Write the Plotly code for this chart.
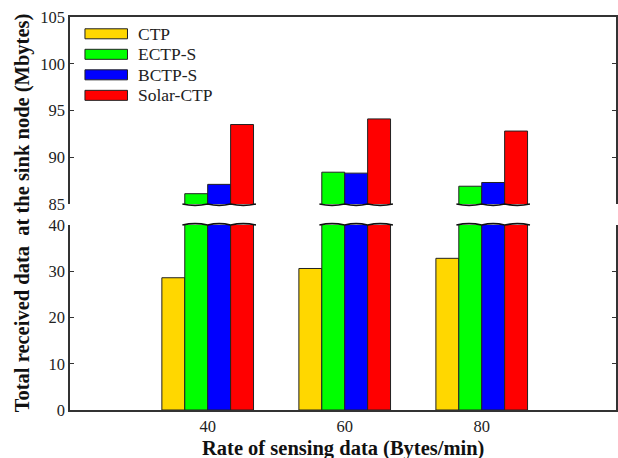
import plotly.graph_objects as go

categories = [40, 60, 80]
series_names = ["CTP", "ECTP-S", "BCTP-S", "Solar-CTP"]
ctp = [28.6, 30.6, 32.8]
ectp_s = [86.1, 88.4, 86.9]
bctp_s = [87.1, 88.3, 87.3]
solar_ctp = [93.5, 94.1, 92.8]
series_values = [ctp, ectp_s, bctp_s, solar_ctp]
colors = ["#FFD700", "#00FF00", "#0000FF", "#FF0000"]

lower_range = [0, 40]
upper_range = [85, 105]
lower_ticks = [0, 10, 20, 30, 40]
upper_ticks = [85, 90, 95, 100, 105]

FONT = "'Liberation Serif', 'Times New Roman', Times, serif"
BAR_W = 3.345
n = len(series_names)
offsets = [(i - n / 2) * BAR_W for i in range(n)]
LOWER_DOM = [0, 0.4707]
UPPER_DOM = [0.5242, 1]

fig = go.Figure()
for i, (name, vals, col) in enumerate(zip(series_names, series_values, colors)):
    common = dict(x=categories, y=vals, name=name, width=BAR_W, offset=offsets[i],
                  marker=dict(color=col, line=dict(color="#222", width=1)),
                  showlegend=False)
    fig.add_trace(go.Bar(xaxis="x", yaxis="y", **common))
    if max(vals) > lower_range[1]:
        fig.add_trace(go.Bar(xaxis="x2", yaxis="y2", **common))

# broken-axis wavy lines (x in data units, y in paper units at the panel edges)
shapes = []
ext = 0.35
for ci, c in enumerate(categories):
    broken = [i for i in range(n) if series_values[i][ci] > lower_range[1]]
    if not broken:
        continue
    for base, amp in ((UPPER_DOM[0], -0.0035), (LOWER_DOM[1], 0.0035)):
        xs0 = c + offsets[broken[0]] - ext
        path = f"M{xs0:.4f},{base:.5f}"
        for i in broken:
            xl = c + offsets[i]
            xr = xl + BAR_W
            if i == broken[0]:
                xl = xs0
            if i == broken[-1]:
                xr = xr + ext
            xm = (xl + xr) / 2
            path += f"Q{xm:.4f},{base + 2 * amp:.5f} {xr:.4f},{base:.5f}"
        shapes.append(dict(type="path", xref="x", yref="paper", path=path,
                           line=dict(color="#111", width=1.6), layer="above"))

# custom legend (wide swatches)
annotations = []
lx0, lx1 = 0.0274, 0.1053
ly_top, lh, lstep = 0.970, 0.0255, 0.0522
for i, (name, col) in enumerate(zip(series_names, colors)):
    yt = ly_top - i * lstep
    shapes.append(dict(type="rect", xref="paper", yref="paper", x0=lx0, x1=lx1,
                       y0=yt - lh, y1=yt, fillcolor=col, line=dict(color="#222", width=1)))
    annotations.append(dict(xref="paper", yref="paper", x=0.1205, y=yt - lh / 2,
                            text=name, showarrow=False, xanchor="left", yanchor="middle",
                            font=dict(family=FONT, size=17.5, color="#222")))

annotations.append(dict(xref="paper", yref="paper", x=-0.0876, y=0.501,
                        text="<b>Total received data\u00a0 at the sink node (Mbytes)</b>",
                        textangle=-90, showarrow=False, xanchor="center", yanchor="middle",
                        font=dict(family=FONT, size=20.5, color="#111")))
annotations.append(dict(xref="paper", yref="paper", x=0.5, y=-0.099,
                        text="<b>Rate of sensing data (Bytes/min)</b>",
                        showarrow=False, xanchor="center", yanchor="middle",
                        font=dict(family=FONT, size=20.5, color="#111")))

axis_line = dict(showline=True, linecolor="#333", linewidth=1.5)
tickfont = dict(family=FONT, size=16.5, color="#222")

fig.update_layout(
    width=618, height=458,
    margin=dict(l=70, r=0, t=17, b=48),
    paper_bgcolor="white", plot_bgcolor="white",
    font=dict(family=FONT),
    barmode="overlay",
    xaxis=dict(range=[19.9, 99.6], tickvals=categories, ticks="", showgrid=False,
               zeroline=False, anchor="y", tickfont=tickfont, ticklen=0, **axis_line),
    xaxis2=dict(range=[19.9, 99.6], matches="x", anchor="y2", side="top",
                showticklabels=False, ticks="", showgrid=False, zeroline=False, **axis_line),
    yaxis=dict(domain=LOWER_DOM, range=lower_range, tickvals=lower_ticks, ticks="inside",
               ticklen=4, tickcolor="#333", mirror="ticks", showgrid=False, zeroline=False,
               tickfont=tickfont, anchor="x", **axis_line),
    yaxis2=dict(domain=UPPER_DOM, range=upper_range, tickvals=upper_ticks, ticks="inside",
                ticklen=4, tickcolor="#333", mirror="ticks", showgrid=False, zeroline=False,
                tickfont=tickfont, anchor="x2", **axis_line),
    shapes=shapes,
    annotations=annotations,
    showlegend=False,
)

fig.write_html("out.html")
